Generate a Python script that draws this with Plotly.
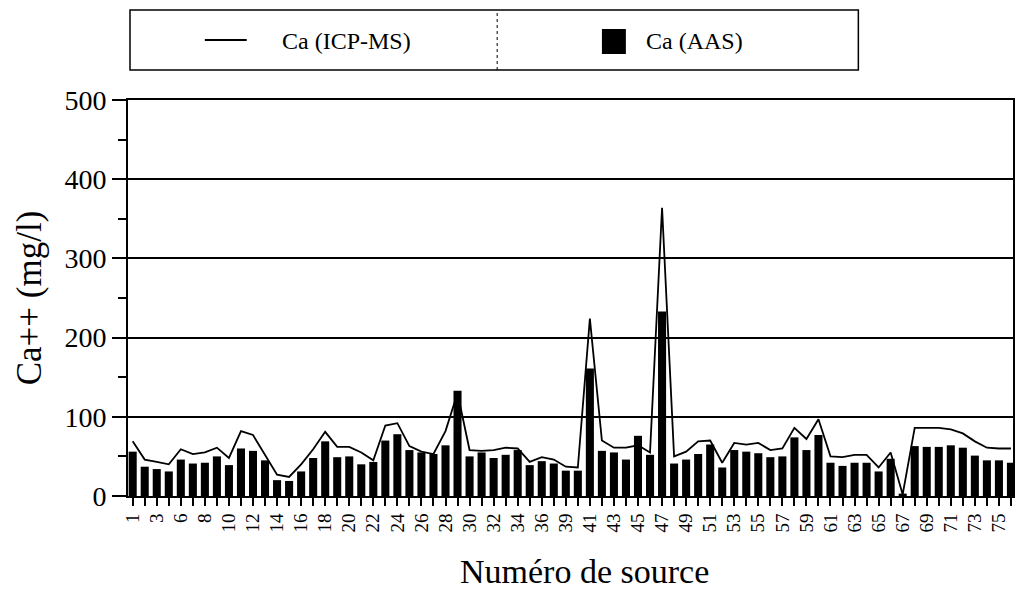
import plotly.graph_objects as go

# Source numbers (two numbers are absent from the series)
sources = [1, 2, 3, 4, 6, 7, 8, 9, 10, 11, 12, 13, 14, 15, 16, 17, 18, 19, 20,
           21, 22, 23, 24, 25, 26, 27, 28, 29, 30, 31, 32, 33, 34, 35, 36, 37,
           39, 40, 41, 42, 43, 44, 45, 46, 47, 48, 49, 50, 51, 52, 53, 54, 55,
           56, 57, 58, 59, 60, 61, 62, 63, 64, 65, 66, 67, 68, 69, 70, 71, 72,
           73, 74, 75, 76]

# Ca (AAS), mg/l
ca_aas = [56, 37, 34, 31, 46, 41, 42, 50, 39, 60, 57, 45, 20, 19, 31, 48, 69,
          49, 50, 40, 43, 70, 78, 58, 55, 53, 64, 133, 50, 55, 48, 52, 58, 39,
          44, 41, 32, 32, 161, 57, 55, 46, 76, 52, 233, 41, 46, 53, 65, 36, 58,
          56, 54, 49, 50, 74, 58, 77, 42, 38, 42, 42, 31, 47, 3, 63, 62, 62, 64,
          61, 51, 45, 45, 42]

# Ca (ICP-MS), mg/l
ca_icpms = [69, 46, 43, 40, 59, 53, 55, 61, 48, 82, 77, 52, 27, 24, 40, 59, 81,
            62, 62, 55, 45, 89, 92, 63, 56, 53, 82, 130, 58, 57, 58, 61, 60, 43,
            49, 46, 37, 36, 224, 70, 61, 61, 64, 55, 364, 50, 56, 69, 70, 42, 67,
            65, 67, 58, 60, 86, 72, 97, 50, 49, 52, 52, 36, 55, 2, 86, 86, 86,
            84, 79, 69, 61, 60, 60]

y_ticks = [0, 100, 200, 300, 400, 500]

cats = [str(s) for s in sources]
tick_text = [c if i % 2 == 0 else "" for i, c in enumerate(cats)]

FONT = "Liberation Serif"

fig = go.Figure()
fig.add_trace(go.Bar(x=cats, y=ca_aas, name="Ca (AAS)",
                     marker=dict(color="black", line=dict(width=0))))
fig.add_trace(go.Scatter(x=cats, y=ca_icpms, name="Ca (ICP-MS)", mode="lines",
                         line=dict(color="black", width=1.8)))

# Pixel helpers for items placed outside the plotting area
L, T, W, H = 128, 100, 887, 396


def px(x):
    return (x - L) / W


def py(y):
    return (T + H - y) / H


# Boxed legend above the plot, two cells separated by a divider
shapes = [
    dict(type="rect", xref="paper", yref="paper", x0=px(130), x1=px(860),
         y0=py(70), y1=py(10), line=dict(color="black", width=1.5)),
    dict(type="line", xref="paper", yref="paper", x0=px(498), x1=px(498),
         y0=py(70), y1=py(10), line=dict(color="black", width=1, dash="dot")),
    dict(type="line", xref="paper", yref="paper", x0=px(205), x1=px(247),
         y0=py(40), y1=py(40), line=dict(color="black", width=1.8)),
    dict(type="rect", xref="paper", yref="paper", x0=px(603), x1=px(627),
         y0=py(54), y1=py(29), fillcolor="black", line=dict(width=0)),
]
annotations = [
    dict(text="Ca (ICP-MS)", xref="paper", yref="paper", x=px(280), y=py(41),
         xanchor="left", yanchor="middle", showarrow=False,
         font=dict(family=FONT, size=24, color="black")),
    dict(text="Ca (AAS)", xref="paper", yref="paper", x=px(645), y=py(41),
         xanchor="left", yanchor="middle", showarrow=False,
         font=dict(family=FONT, size=24, color="black")),
    # x-axis title
    dict(text="Numéro de source", xref="paper", yref="paper", x=px(586),
         y=py(571), xanchor="center", yanchor="middle", showarrow=False,
         font=dict(family=FONT, size=34, color="black")),
]

fig.update_layout(
    width=1017, height=594,
    margin=dict(l=L, r=2, t=T, b=98),
    plot_bgcolor="white", paper_bgcolor="white",
    showlegend=False, bargap=0.33,
    font=dict(family=FONT, color="black"),
    shapes=shapes, annotations=annotations,
)
fig.update_xaxes(
    type="category", range=[-0.39, 73.17],
    tickmode="array", tickvals=cats, ticktext=tick_text, tickangle=-90,
    ticks="outside", ticklen=8, tickwidth=1.5, tickcolor="black",
    showline=True, linecolor="black", linewidth=2, mirror=True,
    showgrid=False, tickfont=dict(family=FONT, size=19, color="black"),
)
fig.update_yaxes(
    range=[0, 500], tickmode="array", tickvals=y_ticks,
    ticks="outside", ticklen=14, tickwidth=1.5, tickcolor="black",
    showline=True, linecolor="black", linewidth=2, mirror=True,
    showgrid=True, gridcolor="black", gridwidth=2, zeroline=False,
    minor=dict(dtick=50, ticks="outside", ticklen=8, tickwidth=1.5,
               tickcolor="black", showgrid=False),
    tickfont=dict(family=FONT, size=28, color="black"),
    title=dict(text="Ca++ (mg/l)", standoff=12,
               font=dict(family=FONT, size=35, color="black")),
)

fig.write_html("out.html")
